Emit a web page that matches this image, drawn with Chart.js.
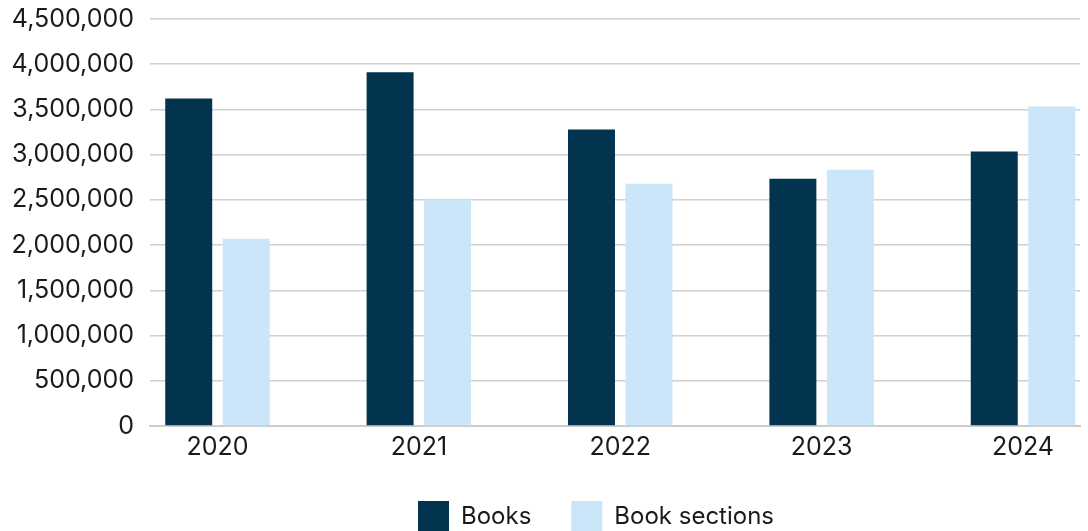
<!DOCTYPE html>
<html>
<head>
<meta charset="utf-8">
<script src="https://cdn.jsdelivr.net/npm/chart.js@4/dist/chart.umd.min.js"></script>
<style>
  body { margin: 0; background: #fff; }
  #wrap { width: 1088px; height: 531px; }
</style>
</head>
<body>
<div id="wrap"><canvas id="bar-chartcanvas" width="1088" height="531"></canvas></div>
<script>
// data
var years = [2020, 2021, 2022, 2023, 2024];
var books = [3622000, 3911000, 3278000, 2735000, 3034000];
var bookSections = [2069000, 2505000, 2679000, 2834000, 3533000];
var yTicks = [0, 500000, 1000000, 1500000, 2000000, 2500000, 3000000, 3500000, 4000000, 4500000];

var fontFamily = "Inter, 'Liberation Sans', sans-serif";

var data = {
    datasets: [
        {
            label: "Books",
            data: years.map(function(y, i){ return {x: y, y: books[i]}; }),
            backgroundColor: "#02334f",
            categoryPercentage: 0.571,
            barPercentage: 0.817
        },
        {
            label: "Book sections",
            data: years.map(function(y, i){ return {x: y, y: bookSections[i]}; }),
            backgroundColor: "#cbe5f9",
            categoryPercentage: 0.571,
            barPercentage: 0.817
        }
    ]
};

// nudge the legend a bit left, like the original
var legendShift = {
    id: "legendShift",
    afterLayout: function(chart){
        if (chart.legend) {
            chart.legend.left -= 19;
            chart.legend.right -= 19;
        }
    }
};

var options = {
    responsive: false,
    animation: false,
    layout: { padding: { top: 19, right: 8, left: 0, bottom: -11 } },
    scales: {
        x: {
            type: "linear",
            offset: false,
            min: years[0] - 0.335,
            max: years[years.length - 1] + 0.283,
            grid: { display: false, drawTicks: false },
            border: { display: true, color: "#cccccc", width: 2 },
            afterBuildTicks: function(scale){
                scale.ticks = years.map(function(y){ return {value: y}; });
            },
            afterFit: function(scale){ scale.height = 35; },
            ticks: {
                padding: 6,
                color: "#1a1a1a",
                font: { family: fontFamily, size: 25 },
                callback: function(v){ return String(v); }
            }
        },
        y: {
            min: 0,
            max: 4500000,
            afterBuildTicks: function(scale){
                scale.ticks = yTicks.map(function(v){ return {value: v}; });
            },
            afterFit: function(scale){
                scale.width = 150;
                scale.paddingTop = 0;
                scale.paddingBottom = 0;
            },
            grid: { color: "#d0d0d0", lineWidth: 1.5, drawTicks: false },
            border: { display: false },
            ticks: {
                padding: 16,
                color: "#1a1a1a",
                font: { family: fontFamily, size: 25 },
                callback: function(v){ return v.toLocaleString("en-US"); }
            }
        }
    },
    plugins: {
        tooltip: { enabled: false },
        legend: {
            display: true,
            position: "bottom",
            fullSize: false,
            labels: {
                boxWidth: 31,
                boxHeight: 31,
                padding: 40,
                color: "#1a1a1a",
                font: { family: fontFamily, size: 24 }
            }
        }
    }
};

var chart = new Chart(document.getElementById("bar-chartcanvas"), {
    type: "bar",
    data: data,
    options: options,
    plugins: [legendShift]
});
</script>
</body>
</html>
